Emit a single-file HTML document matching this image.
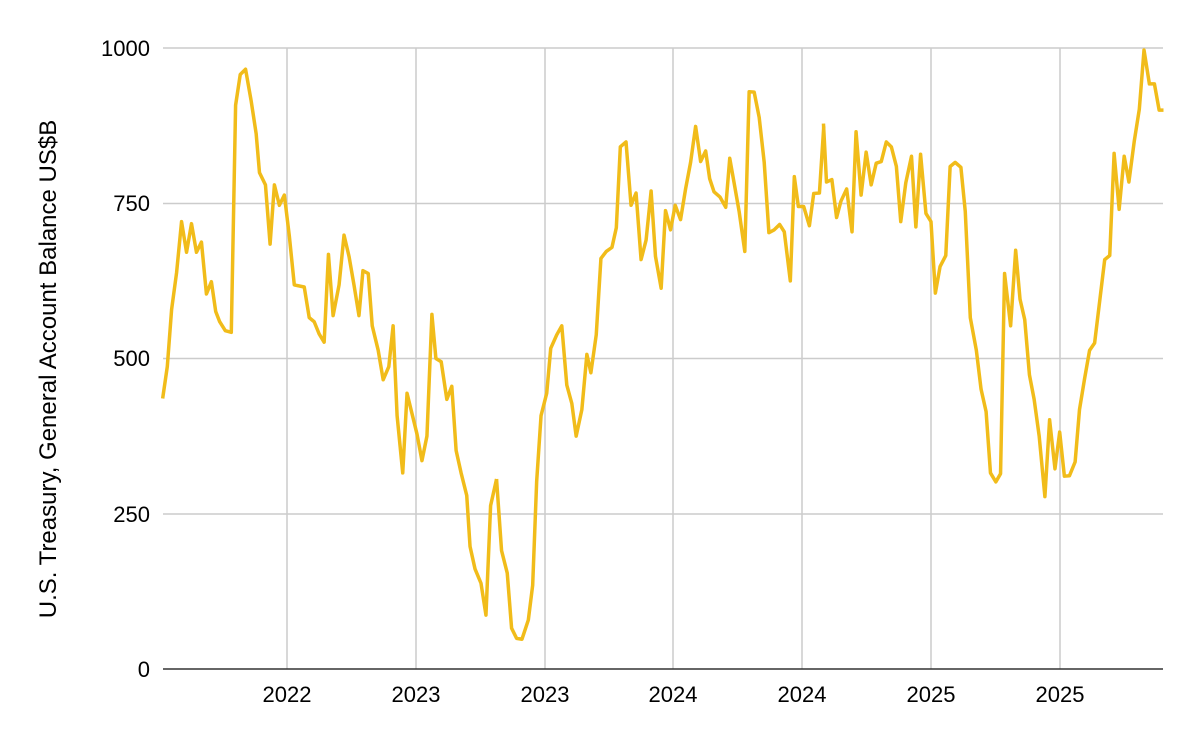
<!DOCTYPE html>
<html><head><meta charset="utf-8"><style>
html,body{margin:0;padding:0;background:#fff;}
svg{display:block;font-family:"Liberation Sans",Arial,sans-serif;}
</style></head><body>
<svg width="1200" height="742" viewBox="0 0 1200 742">
<g stroke="#cccccc" stroke-width="1.5">
<line x1="163" y1="48" x2="1163" y2="48"/>
<line x1="163" y1="203.5" x2="1163" y2="203.5"/>
<line x1="163" y1="358.5" x2="1163" y2="358.5"/>
<line x1="163" y1="514" x2="1163" y2="514"/>
<line x1="287" y1="48" x2="287" y2="669"/>
<line x1="416" y1="48" x2="416" y2="669"/>
<line x1="545" y1="48" x2="545" y2="669"/>
<line x1="673" y1="48" x2="673" y2="669"/>
<line x1="802" y1="48" x2="802" y2="669"/>
<line x1="931" y1="48" x2="931" y2="669"/>
<line x1="1060" y1="48" x2="1060" y2="669"/>
</g>
<line x1="163" y1="669" x2="1163" y2="669" stroke="#333" stroke-width="1.5"/>
<g font-size="22" fill="#000" text-anchor="end">
<text x="150" y="56">1000</text>
<text x="150" y="211">750</text>
<text x="150" y="366">500</text>
<text x="150" y="522">250</text>
<text x="150" y="677">0</text>
</g>
<g font-size="22" fill="#000" text-anchor="middle">
<text x="287" y="702">2022</text>
<text x="416" y="702">2023</text>
<text x="545" y="702">2023</text>
<text x="673" y="702">2024</text>
<text x="802" y="702">2024</text>
<text x="931" y="702">2025</text>
<text x="1060" y="702">2025</text>
</g>
<text transform="translate(56,369) rotate(-90)" font-size="24" fill="#000" text-anchor="middle">U.S. Treasury, General Account Balance US$B</text>
<g fill="none" stroke="#f1bc1a" stroke-width="3.5" stroke-linejoin="round">
<polyline vector-effect="non-scaling-stroke" transform="matrix(0.3316 0 0 0.4086 160 39.8)" points="8,878 22,800 35,660 50,570 65,445 80,520 95,450 110,520 125,495 140,622 155,592 168,665 180,690 197,712 215,716 228,160 242,85 258,72 275,150 290,230 300,325 318,355 332,500 345,355 360,405 375,380 390,480 405,600 435,605 450,680 465,690 480,720 495,740 508,525 522,675 540,600 555,478 570,530 585,600 600,675 612,565 628,572 640,700 658,760 673,832 690,800 703,700 715,920 732,1060 745,865 760,915 775,965 790,1030 805,970 820,672 832,780 848,788 865,880 880,848 893,1005 908,1060 925,1115 935,1240 950,1295 968,1330 983,1408 997,1140 1015,1075"/>
<polyline vector-effect="non-scaling-stroke" transform="matrix(0.3346 0 0 0.4086 479.8 39.8)" points="50,1075 65,1250 82,1305 95,1440 110,1465 126,1467 145,1420 158,1335 170,1080 183,920 200,865 212,755 230,722 245,700 260,845 275,890 288,970 305,905 320,770 332,815 348,722 362,535 378,518 395,508 408,460 420,262 437,250 452,405 467,375 482,538 497,490 512,370 525,530 542,608 555,418 570,465 584,405 600,440 615,365 630,300 645,212 660,298 675,272 687,340 700,372 718,385 735,410 747,290 760,350 775,420 792,518 805,127 820,128 835,190 850,300 864,472 880,465 896,452 910,470 928,590 940,335 952,408 968,408 985,455 998,376 1015,375 1028,212"/>
<polyline vector-effect="non-scaling-stroke" transform="matrix(0.336 0 0 0.4086 819.1 39.8)" points="13,205 22,348 38,342 52,435 65,395 82,365 98,470 110,225 125,380 140,275 155,355 170,302 185,298 200,250 215,262 230,310 243,445 258,350 275,285 288,458 302,280 318,425 333,445 346,620 360,555 377,528 390,310 405,300 422,312 435,420 450,680 468,760 482,855 497,910 510,1060 526,1082 540,1062 552,572 570,700 585,515 598,635 612,685 626,820 640,880 655,970 672,1118 686,930 702,1050 716,960 730,1068 745,1067 762,1033 775,905 790,830 805,760 820,742 835,640 850,538 865,528 878,278 893,415 908,285 922,348 938,248 953,170 967,25 983,108 998,108 1012,172 1025,172"/>
</g>
</svg>
</body></html>
